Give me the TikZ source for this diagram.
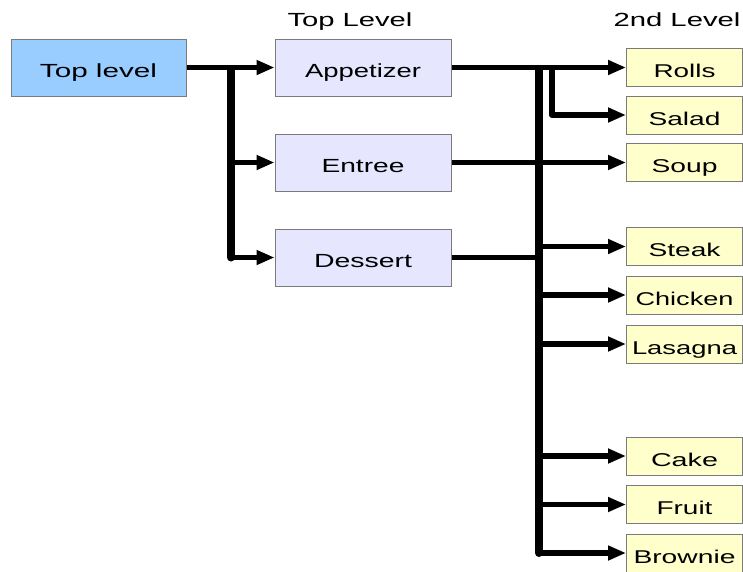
\documentclass[tikz,border=0pt]{standalone}
\usepackage{fontspec}
\setmainfont{Liberation Sans}
\usetikzlibrary{arrows.meta}
\newcommand{\sw}[2]{\resizebox{#1pt}{\height}{#2}}
\definecolor{tlblue}{HTML}{99CCFF}
\definecolor{midlav}{HTML}{E6E6FF}
\definecolor{leafyel}{HTML}{FFFFCC}
\definecolor{boxgray}{HTML}{7A7A7A}
\begin{document}
\begin{tikzpicture}[x=1pt,y=-1pt,
  basebox/.style={draw=boxgray, line width=1pt, inner sep=0pt, text height=19pt, text depth=0pt, font=\fontsize{19}{22}\selectfont},
  tlbox/.style={basebox, fill=tlblue, minimum width=175pt, minimum height=57pt},
  midbox/.style={basebox, fill=midlav, minimum width=176pt, minimum height=57pt},
  leaf/.style={basebox, fill=leafyel, minimum width=116pt, minimum height=38pt, text height=20pt, font=\fontsize{18.5}{22}\selectfont},
  hdr/.style={inner sep=0pt, text height=14pt, text depth=0pt, font=\fontsize{19}{22}\selectfont},
  line/.style={line width=5.5pt, black},
  conn/.style={line, -{Triangle[length=18pt,width=14pt]}},
  trunk/.style={line width=8pt, black, line cap=round},
  trunktwo/.style={line width=6pt, black, line cap=round}
]
\useasboundingbox (0,0) rectangle (743,571);

% headers
\node[hdr] (h1) at (350,19) {\sw{125}{Top Level}};
\node[hdr] (h2) at (677,19) {\sw{127}{2nd Level}};

% nodes
\node[tlbox] (tl) at (98.5,67.5) {\sw{117}{Top level}};
\node[midbox] (app) at (363,67.5) {\sw{116}{Appetizer}};
\node[midbox] (ent) at (363,162.5) {\sw{83}{Entree}};
\node[midbox] (des) at (363,257.5) {\sw{98}{Dessert}};

\node[leaf] (rolls) at (684.5,67.5) {\sw{62}{Rolls}};
\node[leaf] (salad) at (684.5,115) {\sw{72}{Salad}};
\node[leaf] (soup) at (684.5,162.5) {\sw{66}{Soup}};
\node[leaf] (steak) at (684.5,246.5) {\sw{72}{Steak}};
\node[leaf] (chicken) at (684.5,295) {\sw{98}{Chicken}};
\node[leaf] (lasagna) at (684.5,344) {\sw{105}{Lasagna}};
\node[leaf] (cake) at (684.5,456) {\sw{67}{Cake}};
\node[leaf] (fruit) at (684.5,504.5) {\sw{56}{Fruit}};
\node[leaf] (brownie) at (684.5,553) {\sw{102}{Brownie}};

% left connectors
\coordinate (lt) at (231,67.5);
\coordinate (lb) at (231,257.5);
\draw[trunk, line cap=butt] (231,64.75) -- (231,254);
\draw[trunk] (231,250) -- (lb);
\draw[conn] (tl.east) -- (app.west);
\draw[conn] (lt |- ent.west) -- (ent.west);
\draw[conn] (lb) -- (des.west);

% right connectors
\coordinate (rt) at (539,67.5);
\coordinate (rb) at (539,553);
\coordinate (st) at (552,67.5);
\coordinate (sb) at (552,115);
\draw[trunk, line cap=butt] (539,64.75) -- (539,549);
\draw[trunk] (539,545) -- (rb);
\draw[trunktwo, line cap=butt] (552,64.75) -- (552,112);
\draw[trunktwo] (552,108) -- (sb);
\draw[conn] (app.east) -- (rolls.west);
\draw[conn] (sb) -- (salad.west);
\draw[conn] (ent.east) -- (soup.west);
\draw[line] (des.east) -- (rt |- des.east);
\draw[conn] (rt |- steak.west) -- (steak.west);
\draw[conn] (rt |- chicken.west) -- (chicken.west);
\draw[conn] (rt |- lasagna.west) -- (lasagna.west);
\draw[conn] (rt |- cake.west) -- (cake.west);
\draw[conn] (rt |- fruit.west) -- (fruit.west);
\draw[conn] (rb) -- (brownie.west);
\end{tikzpicture}
\end{document}
